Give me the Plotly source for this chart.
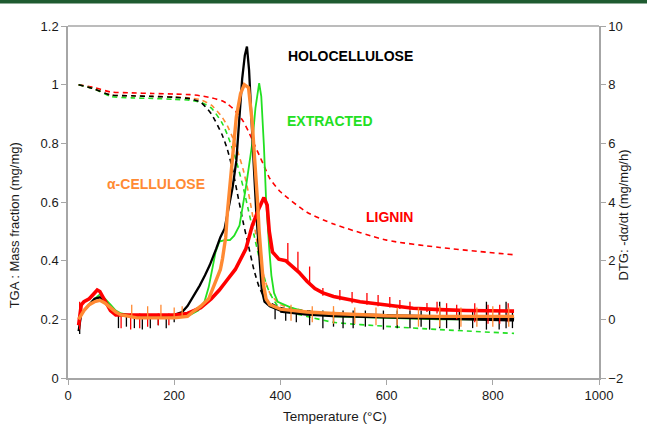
import plotly.graph_objects as go

# ---------------- TGA (left axis, mass fraction) ----------------
T_tga = [20, 50, 80, 120, 160, 200, 230, 250, 270, 290, 300, 310, 320, 330, 340,
         350, 360, 370, 380, 400, 450, 500, 600, 700, 840]
tga_holo = [1.0, 0.985, 0.965, 0.962, 0.96, 0.957, 0.952, 0.94, 0.9, 0.83, 0.78, 0.71,
            0.62, 0.53, 0.45, 0.37, 0.31, 0.275, 0.258, 0.24, 0.228, 0.22, 0.212, 0.208, 0.205]
tga_extr = [1.0, 0.985, 0.96, 0.955, 0.953, 0.95, 0.947, 0.94, 0.92, 0.87, 0.83, 0.78,
            0.72, 0.65, 0.57, 0.49, 0.41, 0.34, 0.29, 0.235, 0.21, 0.19, 0.176, 0.165, 0.152]
tga_cell = [1.0, 0.985, 0.965, 0.962, 0.96, 0.958, 0.955, 0.948, 0.93, 0.89, 0.86, 0.82,
            0.77, 0.71, 0.63, 0.53, 0.42, 0.34, 0.29, 0.25, 0.228, 0.218, 0.21, 0.205, 0.2]
tga_lign = [1.0, 0.99, 0.975, 0.972, 0.97, 0.968, 0.966, 0.962, 0.955, 0.945, 0.935, 0.92,
            0.9, 0.875, 0.84, 0.8, 0.76, 0.72, 0.68, 0.635, 0.565, 0.525, 0.47, 0.445, 0.42]

# ---------------- DTG (right axis) ----------------
T_holo = [20, 25, 30, 40, 50, 60, 70, 80, 90, 100, 120, 150, 180, 200, 215, 225, 235, 248,
          258, 267, 279, 287, 295, 304, 310, 317, 323, 328, 333, 337, 341, 345, 350, 355,
          360, 365, 370, 380, 400, 450, 500, 600, 700, 840]
dtg_holo = [-0.4, 0.2, 0.3, 0.5, 0.7, 0.75, 0.6, 0.4, 0.25, 0.15, 0.1, 0.1, 0.1, 0.15, 0.25,
            0.45, 0.75, 1.15, 1.5, 1.85, 2.4, 2.8, 3.1, 3.9, 4.5, 5.4, 6.8, 8.2, 9.0, 9.3,
            8.5, 6.8, 5.2, 3.5, 2.1, 1.0, 0.6, 0.45, 0.3, 0.2, 0.15, 0.1, 0.05, 0.0]

T_extr = [20, 30, 40, 50, 60, 70, 80, 90, 100, 130, 200, 230, 245, 257, 265, 272, 278, 285,
          295, 305, 313, 323, 335, 347, 353, 360, 364, 369, 373, 379, 383, 388, 395, 420,
          450, 500, 600, 700, 840]
dtg_extr = [0.0, 0.3, 0.5, 0.7, 0.85, 0.7, 0.5, 0.3, 0.2, 0.1, 0.1, 0.15, 0.3, 0.6, 1.1,
            1.8, 2.3, 2.65, 2.7, 2.7, 2.85, 3.2, 4.5, 6.0, 7.2, 8.05, 7.6, 5.9, 4.1, 2.4,
            1.5, 0.9, 0.6, 0.4, 0.25, 0.1, 0.05, 0.0, 0.0]

T_cell = [20, 30, 40, 50, 60, 70, 80, 90, 100, 130, 200, 225, 235, 250, 265, 279, 287, 291,
          297, 300, 304, 310, 317, 325, 332, 340, 347, 351, 354, 357, 360, 364, 368, 373,
          380, 400, 450, 500, 600, 700, 840]
dtg_cell = [0.0, 0.3, 0.5, 0.6, 0.65, 0.55, 0.4, 0.25, 0.15, 0.05, 0.05, 0.1, 0.25, 0.45,
            0.7, 1.3, 1.7, 2.07, 2.8, 3.6, 4.4, 5.6, 6.9, 7.7, 8.0, 7.9, 6.7, 5.6, 4.9, 4.0,
            3.0, 2.0, 1.2, 0.7, 0.5, 0.35, 0.25, 0.2, 0.12, 0.1, 0.1]

T_lign = [20, 25, 30, 40, 50, 55, 60, 70, 80, 90, 100, 130, 200, 225, 250, 270, 285, 300,
          315, 335, 347, 360, 369, 375, 379, 385, 397, 410, 435, 450, 465, 480, 500, 550,
          621, 650, 700, 750, 840]
dtg_lign = [-0.2, 0.5, 0.6, 0.7, 0.9, 1.0, 0.95, 0.6, 0.3, 0.15, 0.15, 0.15, 0.15, 0.2,
            0.4, 0.7, 1.0, 1.35, 1.7, 2.4, 3.2, 3.8, 4.15, 3.9, 3.0, 2.3, 2.05, 2.0, 1.6,
            1.3, 1.05, 0.9, 0.78, 0.6, 0.45, 0.38, 0.33, 0.3, 0.28]

spk_holo_T = [22, 95, 110, 125, 140, 155, 170, 185, 200, 390, 410, 430, 455, 480, 500, 518,
              537, 560, 594, 620, 644, 665, 681, 700, 713, 737, 762, 788, 812, 825, 837]
spk_holo_lo = [-0.5, -0.3, -0.25, -0.3, -0.35, -0.3, -0.2, -0.3, -0.1, 0.0, -0.05, -0.1, -0.2,
               -0.3, -0.25, -0.3, -0.3, -0.25, -0.35, -0.3, -0.3, -0.25, -0.35, -0.3, -0.3,
               -0.35, -0.3, -0.35, -0.35, -0.3, -0.3]
spk_holo_hi = [0.2, 0.15, 0.15, 0.15, 0.15, 0.15, 0.15, 0.15, 0.2, 0.4, 0.35, 0.3, 0.3, 0.3,
               0.3, 0.3, 0.3, 0.3, 0.3, 0.3, 0.3, 0.3, 0.3, 0.6, 0.3, 0.3, 0.3, 0.6, 0.3, 0.6, 0.3]

spk_lign_T = [22, 100, 118, 135, 150, 170, 190, 414, 433, 455, 480, 512, 535, 563, 584, 606,
              625, 644, 676, 695, 713, 732, 766, 791, 813, 829]
spk_lign_lo = [-0.35, -0.3, -0.35, -0.3, -0.25, -0.2, -0.2, 1.9, 1.6, 1.2, 0.8, 0.65, 0.55,
               0.5, 0.45, 0.4, 0.35, 0.3, 0.25, 0.2, 0.1, 0.0, -0.1, -0.15, -0.15, -0.1]
spk_lign_hi = [0.6, 0.2, 0.2, 0.2, 0.2, 0.2, 0.2, 2.6, 2.3, 1.8, 1.07, 1.0, 0.93, 0.9, 0.83,
               0.76, 0.66, 0.6, 0.56, 0.6, 0.55, 0.5, 0.55, 0.5, 0.5, 0.55]

spk_cell_T = [120, 150, 175, 200, 215, 420, 460, 500, 540, 580, 620, 660, 700, 740, 770, 800, 830]
spk_cell_lo = [0.05, 0.05, 0.05, 0.05, 0.05, -0.05, -0.1, -0.15, -0.15, -0.2, -0.2, -0.25,
               -0.25, -0.25, -0.25, -0.25, -0.25]
spk_cell_hi = [0.5, 0.45, 0.5, 0.4, 0.45, 0.5, 0.45, 0.45, 0.4, 0.4, 0.4, 0.4, 0.45, 0.4,
               0.4, 0.45, 0.4]

BLACK = "#000000"
GREEN = "#22e022"
ORANGE = "#ff8a33"
RED = "#ff0000"
DASH = "5px,4px"


def spikes(ts, lo, hi):
    xs, ys = [], []
    for t, a, b in zip(ts, lo, hi):
        xs += [t, t, None]
        ys += [a, b, None]
    return xs, ys


fig = go.Figure()
for ys, col in [(tga_lign, RED), (tga_cell, ORANGE), (tga_extr, GREEN), (tga_holo, BLACK)]:
    fig.add_trace(go.Scatter(x=T_tga, y=ys, mode="lines", yaxis="y",
                             line=dict(color=col, width=1.6, dash=DASH, shape="spline", smoothing=0.6),
                             showlegend=False, hoverinfo="skip"))

fig.add_trace(go.Scatter(x=T_extr, y=dtg_extr, mode="lines", yaxis="y2",
                         line=dict(color=GREEN, width=1.8), showlegend=False, hoverinfo="skip"))
sx, sy = spikes(spk_holo_T, spk_holo_lo, spk_holo_hi)
fig.add_trace(go.Scatter(x=sx, y=sy, mode="lines", yaxis="y2", line=dict(color=BLACK, width=1.3),
                         showlegend=False, hoverinfo="skip"))
fig.add_trace(go.Scatter(x=T_holo, y=dtg_holo, mode="lines", yaxis="y2",
                         line=dict(color=BLACK, width=2.3), showlegend=False, hoverinfo="skip"))
fig.add_trace(go.Scatter(x=T_holo[38:], y=dtg_holo[38:], mode="lines", yaxis="y2",
                         line=dict(color=BLACK, width=4.5), showlegend=False, hoverinfo="skip"))
sx, sy = spikes(spk_lign_T, spk_lign_lo, spk_lign_hi)
fig.add_trace(go.Scatter(x=sx, y=sy, mode="lines", yaxis="y2", line=dict(color=RED, width=1.3),
                         showlegend=False, hoverinfo="skip"))
fig.add_trace(go.Scatter(x=T_lign, y=dtg_lign, mode="lines", yaxis="y2",
                         line=dict(color=RED, width=3.6), showlegend=False, hoverinfo="skip"))
sx, sy = spikes(spk_cell_T, spk_cell_lo, spk_cell_hi)
fig.add_trace(go.Scatter(x=sx, y=sy, mode="lines", yaxis="y2", line=dict(color=ORANGE, width=1.3),
                         showlegend=False, hoverinfo="skip"))
fig.add_trace(go.Scatter(x=T_cell, y=dtg_cell, mode="lines", yaxis="y2",
                         line=dict(color=ORANGE, width=3.4), showlegend=False, hoverinfo="skip"))

AX = "#a6a6a6"
LF = "Liberation Sans, Arial, sans-serif"
TF = dict(family=LF, size=13, color="#1a1a1a")
common = dict(showgrid=False, zeroline=False, showline=True, linecolor=AX, linewidth=1.5,
              ticks="outside", ticklen=5, tickcolor=AX, tickwidth=1.2, tickfont=TF)

fig.update_layout(
    width=647, height=434,
    margin=dict(l=68, r=48, t=26, b=56),
    paper_bgcolor="white", plot_bgcolor="white",
    xaxis=dict(range=[0, 1000], tickvals=[0, 200, 400, 600, 800, 1000], **common),
    yaxis=dict(range=[0, 1.2], tickvals=[0, 0.2, 0.4, 0.6, 0.8, 1.0, 1.2],
               ticktext=["0", "0.2", "0.4", "0.6", "0.8", "1", "1.2"], **common),
    yaxis2=dict(range=[-2, 10], tickvals=[-2, 0, 2, 4, 6, 8, 10], overlaying="y", side="right",
                **common),
    shapes=[
        dict(type="line", xref="paper", yref="paper", x0=0, x1=1, y0=1, y1=1,
             line=dict(color=AX, width=1.5)),
        dict(type="rect", xref="paper", yref="paper", x0=-68 / 531, x1=1 + 48 / 531,
             y0=(378 - 3.5) / 352, y1=378 / 352 + 0.01, fillcolor="#1e5b30", line=dict(width=0)),
    ],
)

annots = [
    ("HOLOCELLULOSE", 532, 1.097, BLACK),
    ("EXTRACTED", 493, 0.876, GREEN),
    ("α-CELLULOSE", 166, 0.663, ORANGE),
    ("LIGNIN", 606, 0.548, RED),
]
for txt, x, y, col in annots:
    fig.add_annotation(x=x, y=y, xref="x", yref="y", text="<b>%s</b>" % txt, showarrow=False,
                       font=dict(family=LF, size=14, color=col))

TT = dict(family=LF, size=13, color="#1a1a1a")
fig.add_annotation(text="Temperature (°C)", xref="paper", yref="paper", x=0.503, y=-0.136,
                   showarrow=False, font=dict(family=LF, size=13.5, color="#1a1a1a"))
fig.add_annotation(text="TGA : Mass fraction (mg/mg)", xref="paper", yref="paper",
                   x=-0.117, y=0.4347, textangle=-90, showarrow=False, font=TT)
fig.add_annotation(text="DTG: -dα/dt (mg/mg/h)", xref="paper", yref="paper",
                   x=1.064, y=0.463, textangle=-90, showarrow=False, font=TT)

fig.write_html("out.html")
